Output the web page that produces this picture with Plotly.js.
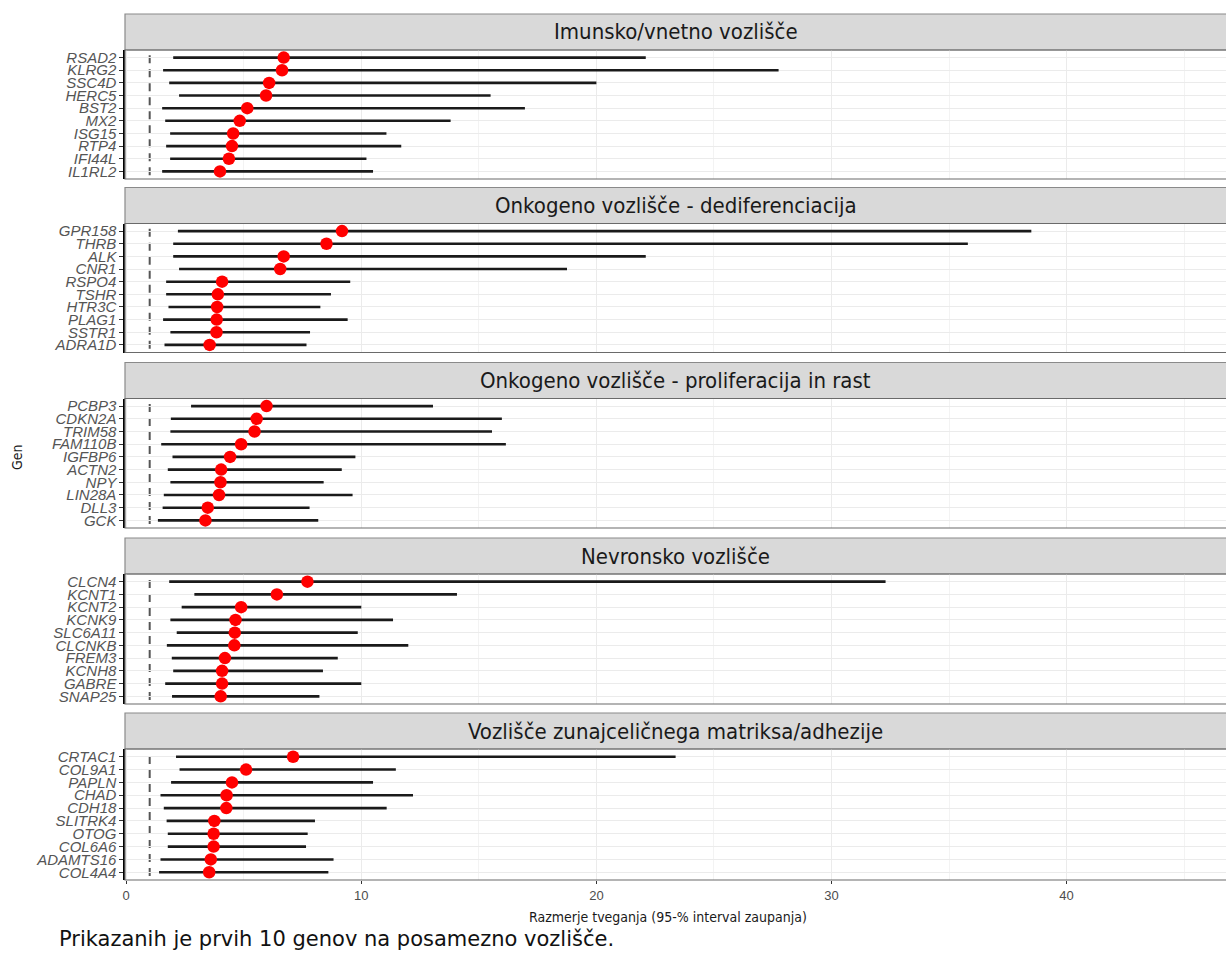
<!DOCTYPE html>
<html>
<head>
<meta charset="utf-8">
<script src="https://cdn.plot.ly/plotly-3.0.1.min.js"></script>
<style>html,body{margin:0;padding:0;background:#fff;}#chart{width:1226px;height:956px;}</style>
</head>
<body>
<div id="chart"></div>
<script>
// ---- data ----
const panelTitles = [
  "Imunsko/vnetno vozlišče",
  "Onkogeno vozlišče - dediferenciacija",
  "Onkogeno vozlišče - proliferacija in rast",
  "Nevronsko vozlišče",
  "Vozlišče zunajceličnega matriksa/adhezije"
];

const genes1 = ["RSAD2","KLRG2","SSC4D","HERC5","BST2","MX2","ISG15","RTP4","IFI44L","IL1RL2"];
const hr1    = [6.70, 6.63, 6.08, 5.95, 5.15, 4.83, 4.55, 4.50, 4.37, 3.99];
const lo1    = [2.00, 1.57, 1.83, 2.25, 1.53, 1.66, 1.87, 1.70, 1.87, 1.53];
const hi1    = [22.1, 27.75, 20.0, 15.5, 16.96, 13.8, 11.07, 11.7, 10.22, 10.5];

const genes2 = ["GPR158","THRB","ALK","CNR1","RSPO4","TSHR","HTR3C","PLAG1","SSTR1","ADRA1D"];
const hr2    = [9.18, 8.52, 6.70, 6.55, 4.08, 3.90, 3.87, 3.85, 3.84, 3.55];
const lo2    = [2.20, 2.00, 2.00, 2.25, 1.70, 1.70, 1.80, 1.57, 1.88, 1.63];
const hi2    = [38.5, 35.8, 22.1, 18.75, 9.53, 8.71, 8.26, 9.42, 7.82, 7.67];

const genes3 = ["PCBP3","CDKN2A","TRIM58","FAM110B","IGFBP6","ACTN2","NPY","LIN28A","DLL3","GCK"];
const hr3    = [5.97, 5.55, 5.46, 4.89, 4.42, 4.04, 4.01, 3.95, 3.47, 3.37];
const lo3    = [2.76, 1.90, 1.88, 1.49, 1.97, 1.77, 1.88, 1.60, 1.55, 1.35];
const hi3    = [13.05, 15.98, 15.56, 16.15, 9.75, 9.17, 8.40, 9.63, 7.80, 8.17];

const genes4 = ["CLCN4","KCNT1","KCNT2","KCNK9","SLC6A11","CLCNKB","FREM3","KCNH8","GABRE","SNAP25"];
const hr4    = [7.71, 6.41, 4.89, 4.65, 4.62, 4.60, 4.20, 4.08, 4.08, 4.02];
const lo4    = [1.83, 2.90, 2.36, 1.88, 2.15, 1.73, 1.94, 2.00, 1.66, 1.95];
const hi4    = [32.3, 14.07, 10.0, 11.35, 9.85, 12.0, 9.0, 8.37, 10.0, 8.22];

const genes5 = ["CRTAC1","COL9A1","PAPLN","CHAD","CDH18","SLITRK4","OTOG","COL6A6","ADAMTS16","COL4A4"];
const hr5    = [7.10, 5.10, 4.50, 4.27, 4.26, 3.75, 3.72, 3.72, 3.60, 3.53];
const lo5    = [2.12, 2.27, 1.91, 1.46, 1.60, 1.72, 1.77, 1.77, 1.46, 1.40];
const hi5    = [23.37, 11.47, 10.5, 12.2, 11.08, 8.03, 7.72, 7.65, 8.82, 8.60];

const refValue = 1;
const xTickVals = [0, 10, 20, 30, 40];
const xMinorVals = [5, 15, 25, 35, 45];
const xTitle = "Razmerje tveganja (95-% interval zaupanja)";
const yTitle = "Gen";
const caption = "Prikazanih je prvih 10 genov na posamezno vozlišče.";

// ---- build ----
const panels = [
  {g: genes1, hr: hr1, lo: lo1, hi: hi1},
  {g: genes2, hr: hr2, lo: lo2, hi: hi2},
  {g: genes3, hr: hr3, lo: lo3, hi: hi3},
  {g: genes4, hr: hr4, lo: lo4, hi: hi4},
  {g: genes5, hr: hr5, lo: lo5, hi: hi5}
];

const H = 956;
const plotTop = [50, 223.5, 398.5, 574, 749];
const plotBot = [179, 352.5, 528, 704, 880];
const stripH = 36;
const py = p => 1 - p / H;
const xRange = [-0.05, 46.78];
const condensed = "DejaVu Sans Condensed, DejaVu Sans, sans-serif";

const traces = [];
const shapes = [];
const annotations = [];
const layout = {
  width: 1226, height: H,
  margin: {l: 125, r: 0, t: 0, b: 0},
  paper_bgcolor: "#ffffff",
  plot_bgcolor: "#ffffff",
  showlegend: false,
  font: {family: "Liberation Sans, Arial, sans-serif", color: "#4d4d4d"}
};

panels.forEach((p, i) => {
  const k = i + 1;
  const xa = k === 1 ? "x" : "x" + k;
  const ya = k === 1 ? "y" : "y" + k;
  const lx = [], ly = [];
  p.g.forEach((g, j) => { lx.push(p.lo[j], p.hi[j], null); ly.push(g, g, null); });
  traces.push({
    type: "scatter", mode: "lines", x: lx, y: ly, xaxis: xa, yaxis: ya,
    line: {color: "#1a1a1a", width: 2.6}, hoverinfo: "skip", connectgaps: false
  });
  traces.push({
    type: "scatter", mode: "markers", x: p.hr, y: p.g, xaxis: xa, yaxis: ya,
    marker: {color: "#ff0000", size: 12.5, line: {width: 0}}
  });

  const isBottom = k === 5;
  layout["xaxis" + (k === 1 ? "" : k)] = {
    anchor: ya, domain: [0, 1], range: xRange, type: "linear",
    tickmode: "array", tickvals: xTickVals, ticktext: xTickVals.map(String),
    showticklabels: isBottom, ticks: isBottom ? "outside" : "", ticklen: 3, tickcolor: "#333",
    tickfont: {size: 13, color: "#4d4d4d", family: "Liberation Sans, Arial, sans-serif"},
    showgrid: true, gridcolor: "#ebebeb", gridwidth: 1,
    minor: {tickmode: "array", tickvals: xMinorVals, showgrid: true, gridcolor: "#f3f3f3", gridwidth: 1},
    zeroline: false, showline: false, fixedrange: true, automargin: false
  };
  const cats = p.g.slice().reverse();
  layout["yaxis" + (k === 1 ? "" : k)] = {
    anchor: xa, domain: [py(plotBot[i]), py(plotTop[i])],
    type: "category", categoryorder: "array", categoryarray: cats,
    tickmode: "array", tickvals: cats, ticktext: cats,
    range: [-0.6, 9.6],
    ticks: "outside", ticklen: 4, tickcolor: "#333", tickwidth: 1,
    tickfont: {size: 15, color: "#555", family: "Liberation Sans, Arial, sans-serif", style: "italic"},
    showgrid: true, gridcolor: "#ebebeb", gridwidth: 1,
    showline: true, linecolor: "#000", linewidth: 1.6,
    zeroline: false, fixedrange: true, automargin: false
  };

  // reference line
  shapes.push({
    type: "line", xref: xa, yref: ya + " domain", x0: refValue, x1: refValue, y0: 0.03, y1: 0.97,
    line: {color: "#555", width: 2, dash: "8px,6px"}, layer: "below"
  });
  // panel border
  shapes.push({
    type: "rect", xref: "paper", yref: "paper", x0: 0, x1: 1.002,
    y0: py(plotBot[i]), y1: py(plotTop[i]),
    line: {color: "#6a6a6a", width: 1.2}, fillcolor: "rgba(0,0,0,0)", layer: "above"
  });
  // strip
  shapes.push({
    type: "rect", xref: "paper", yref: "paper", x0: 0, x1: 1.002,
    y0: py(plotTop[i]), y1: py(plotTop[i] - stripH),
    line: {color: "#8a8a8a", width: 1.2}, fillcolor: "#d9d9d9", layer: "below"
  });
  annotations.push({
    xref: "paper", yref: "paper", x: 0.5, y: py(plotTop[i] - stripH / 2),
    text: panelTitles[i], showarrow: false, xanchor: "center", yanchor: "middle",
    font: {family: condensed, size: 22, color: "#1a1a1a"}
  });
});

annotations.push({
  xref: "paper", yref: "paper", x: (668 - 125) / 1101, y: py(917),
  text: xTitle, showarrow: false, xanchor: "center", yanchor: "middle",
  font: {family: condensed, size: 14, color: "#1a1a1a"}
});
annotations.push({
  xref: "paper", yref: "paper", x: (17 - 125) / 1101, y: py(457),
  text: yTitle, showarrow: false, xanchor: "center", yanchor: "middle", textangle: -90,
  font: {family: condensed, size: 14, color: "#1a1a1a"}
});
annotations.push({
  xref: "paper", yref: "paper", x: (57 - 125) / 1101, y: py(939),
  text: caption, showarrow: false, xanchor: "left", yanchor: "middle",
  font: {family: "DejaVu Sans, sans-serif", size: 21, color: "#111"}
});

layout.shapes = shapes;
layout.annotations = annotations;

Plotly.newPlot("chart", traces, layout, {displayModeBar: false, staticPlot: true});
</script>
</body>
</html>
